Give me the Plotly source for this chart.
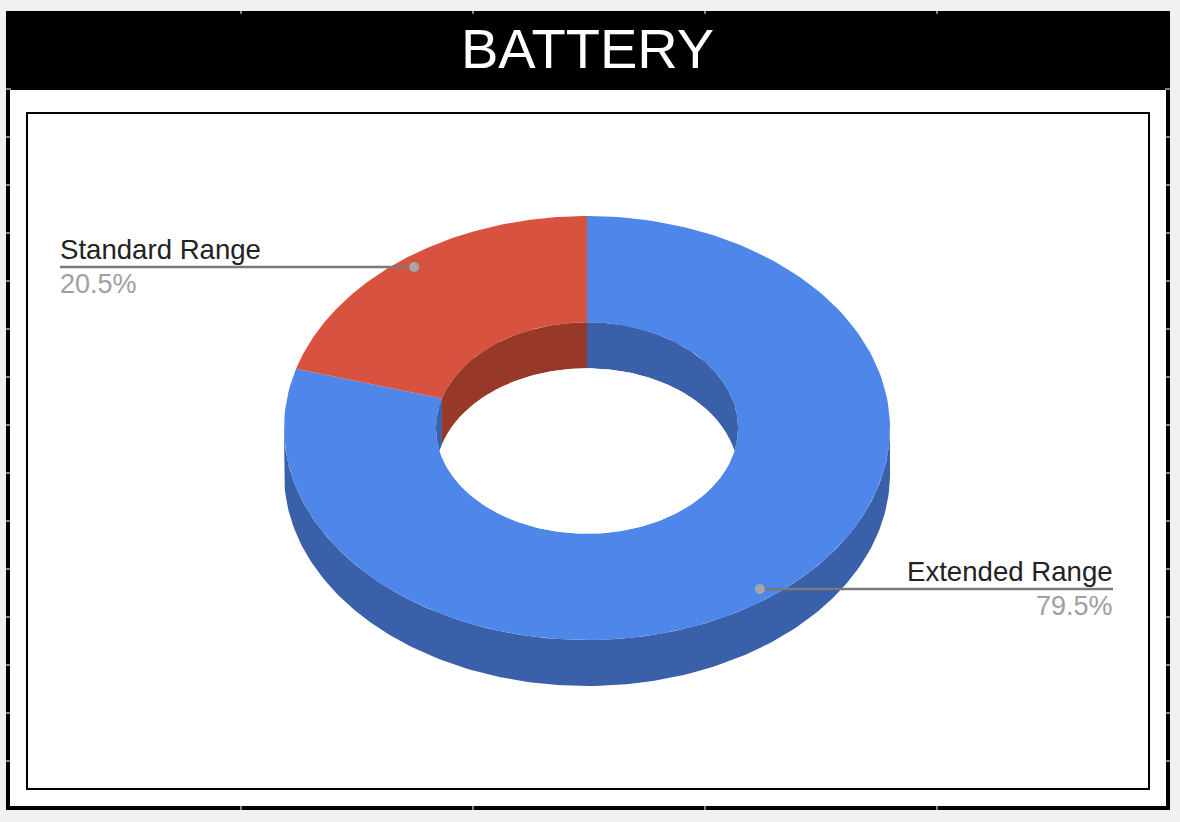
import numpy as np
import plotly.graph_objects as go

title = "BATTERY"
labels = ["Extended Range", "Standard Range"]
values = [79.5, 20.5]
pct_text = ["79.5%", "20.5%"]
top_colors = ["#4F86E9", "#D85240"]
side_colors = ["#3A60A9", "#983829"]

# pixel geometry of the tilted ring
CX, CY = 587, 428
RX, RY = 303, 212
HOLE = 0.4985
DEPTH = 46


def arc(a, b, r=1.0, drop=0):
    # angles in degrees, clockwise from 12 o'clock
    t = np.radians(np.linspace(a, b, 180))
    return CX + r * RX * np.sin(t), CY + drop - r * RY * np.cos(t)


def poly(fig, pieces, color):
    x = np.concatenate([p[0] for p in pieces])
    y = np.concatenate([p[1] for p in pieces])
    fig.add_scatter(x=x, y=y, mode="lines", fill="toself", fillcolor=color,
                    line=dict(width=0), hoverinfo="skip", showlegend=False)


fig = go.Figure()

# slice angles come from the values
edges = np.cumsum([0] + values) / sum(values) * 360
mids = (edges[:-1] + edges[1:]) / 2

# where the hole's top rim crosses the same rim dropped by DEPTH
hole_ry = HOLE * RY
th_c = np.degrees(np.arccos(-DEPTH / 2 / hole_ry))
ph_c = np.degrees(np.arccos(DEPTH / 2 / hole_ry))

# outer wall (only the front half shows)
poly(fig, [arc(90, 270), arc(270, 90, drop=DEPTH)], side_colors[0])

# top faces
for i in range(len(values)):
    poly(fig, [arc(edges[i], edges[i + 1]), arc(edges[i + 1], edges[i], HOLE)], top_colors[i])

# inner wall seen through the hole
poly(fig, [arc(0, th_c, HOLE), arc(ph_c, 0, HOLE, DEPTH)], side_colors[0])
poly(fig, [arc(360 - th_c, edges[1], HOLE), arc(edges[1], 360 - ph_c, HOLE, DEPTH)], side_colors[0])
poly(fig, [arc(edges[1], 360, HOLE), arc(360, edges[1], HOLE, DEPTH)], side_colors[1])

# see-through part of the hole
poly(fig, [arc(-ph_c, ph_c, HOLE, DEPTH), arc(th_c, 360 - th_c, HOLE)], "#FFFFFF")

# callouts
ends = [1113, 60]
anchors = ["right", "left"]
shifts = [2, -2]
for i, m in enumerate(mids):
    t = np.radians(m)
    dx = CX + 0.95 * RX * np.sin(t)
    dy = CY - 0.95 * RY * np.cos(t)
    fig.add_scatter(x=[dx, ends[i]], y=[dy, dy], mode="lines",
                    line=dict(color="#7A7A7A", width=2.4), hoverinfo="skip", showlegend=False)
    fig.add_scatter(x=[dx], y=[dy], mode="markers",
                    marker=dict(color="#A6A6A6", size=10), hoverinfo="skip", showlegend=False)
    fig.add_annotation(x=ends[i], y=dy - 17.5, text=labels[i], showarrow=False, xanchor=anchors[i],
                       yanchor="middle", xshift=shifts[i],
                       font=dict(family="Liberation Sans", size=27.6, color="#222222"))
    fig.add_annotation(x=ends[i], y=dy + 17, text=pct_text[i], showarrow=False, xanchor=anchors[i],
                       yanchor="middle", xshift=shifts[i],
                       font=dict(family="Liberation Sans", size=27, color="#A0A0A0"))

fig.add_annotation(x=587, y=48, text=title, showarrow=False, xanchor="center", yanchor="middle",
                   font=dict(family="Liberation Sans", size=56, color="#FFFFFF"))

# frames
shapes = [
    dict(type="rect", x0=6, x1=1170, y0=11, y1=810, fillcolor="#000000", line_width=0, layer="below"),
    dict(type="rect", x0=10, x1=1166, y0=90, y1=806, fillcolor="#FFFFFF", line_width=0, layer="below"),
    dict(type="rect", x0=27, x1=1149, y0=113, y1=789, fillcolor="#FFFFFF",
         line=dict(color="#000000", width=2), layer="below"),
]
# tiny spreadsheet grid nicks on the outer border
for yy in range(89, 800, 48):
    shapes.append(dict(type="line", x0=5, x1=11, y0=yy, y1=yy, line=dict(color="#FFFFFF", width=1), layer="below"))
    shapes.append(dict(type="line", x0=1165, x1=1171, y0=yy, y1=yy, line=dict(color="#FFFFFF", width=1), layer="below"))
for xx in [241, 473, 705, 937]:
    shapes.append(dict(type="line", x0=xx, x1=xx, y0=10, y1=14, line=dict(color="#FFFFFF", width=1), layer="below"))
    shapes.append(dict(type="line", x0=xx, x1=xx, y0=805, y1=811, line=dict(color="#FFFFFF", width=1), layer="below"))

fig.update_layout(
    width=1180, height=822, margin=dict(l=0, r=0, t=0, b=0),
    paper_bgcolor="#F1F1F1", plot_bgcolor="#F1F1F1", shapes=shapes,
    xaxis=dict(range=[0, 1180], visible=False, fixedrange=True),
    yaxis=dict(range=[822, 0], visible=False, fixedrange=True),
)

fig.write_html("out.html", config={"displayModeBar": False},
               post_script="document.body.style.margin='0';document.body.style.overflow='hidden';")
